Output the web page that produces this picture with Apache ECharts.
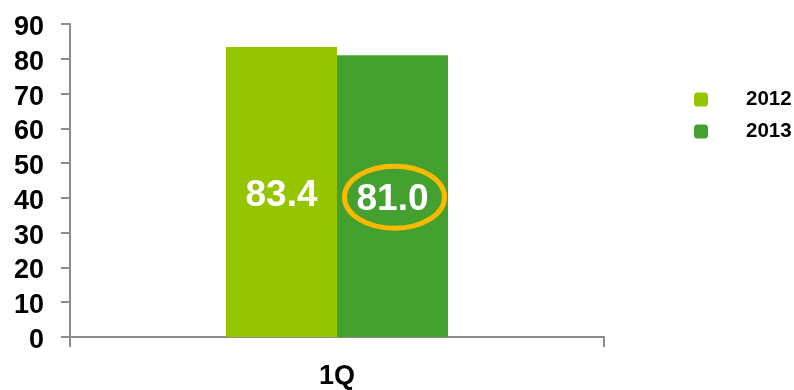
<!DOCTYPE html>
<html>
<head>
<meta charset="utf-8">
<script src="https://cdn.jsdelivr.net/npm/echarts@6/dist/echarts.min.js"></script>
<style>
  html, body { margin: 0; padding: 0; background: #fff; }
  #chart { width: 794px; height: 390px; }
</style>
</head>
<body>
<div id="chart"></div>
<script>
// Quarterly values per year
const categories = ['1Q'];
const seriesNames = ['2012', '2013'];
const values2012 = [83.4];
const values2013 = [81.0];
const yTicks = { min: 0, max: 90, interval: 10 };

const FONT = '"Liberation Sans", Arial, sans-serif';
const AXIS_COLOR = '#8c8c8c';
const COLORS = ['#95c501', '#45a12f'];
const RING_COLOR = '#fbb900';

const chart = echarts.init(document.getElementById('chart'), null, { renderer: 'canvas' });

const barLabel = {
  show: true,
  position: 'inside',
  offset: [0, 4],
  color: '#ffffff',
  fontFamily: FONT,
  fontWeight: 'bold',
  fontSize: 37,
  formatter: p => p.value.toFixed(1)
};

const tickTextStyle = {
  fontFamily: FONT,
  fontWeight: 'bold',
  fontSize: 27,
  color: '#000'
};

chart.setOption({
  animation: false,
  backgroundColor: '#ffffff',
  grid: { left: 70, right: 190, top: 24, bottom: 50, containLabel: false },
  legend: {
    orient: 'vertical',
    left: 689,
    top: 84,
    itemWidth: 14,
    itemHeight: 14,
    itemGap: 11,
    icon: 'roundRect',
    data: seriesNames,
    textStyle: {
      fontFamily: FONT,
      fontWeight: 'bold',
      fontSize: 20.5,
      color: '#000',
      padding: [0, 0, 0, 33]
    }
  },
  xAxis: {
    type: 'category',
    data: categories,
    axisLine: { show: true, lineStyle: { color: AXIS_COLOR, width: 2 } },
    axisTick: { show: true, alignWithLabel: false, length: 10, lineStyle: { color: AXIS_COLOR, width: 2 } },
    axisLabel: Object.assign({ margin: 26 }, tickTextStyle),
    splitLine: { show: false }
  },
  yAxis: {
    type: 'value',
    min: yTicks.min,
    max: yTicks.max,
    interval: yTicks.interval,
    axisLine: { show: true, lineStyle: { color: AXIS_COLOR, width: 2 } },
    axisTick: { show: true, length: 9, lineStyle: { color: AXIS_COLOR, width: 2 } },
    axisLabel: Object.assign({
      margin: 26,
      formatter: '{v|{value}}',
      rich: { v: Object.assign({ padding: [7, 0, 0, 0] }, tickTextStyle) }
    }, tickTextStyle),
    splitLine: { show: false }
  },
  series: [
    {
      name: seriesNames[0],
      type: 'bar',
      data: values2012,
      barWidth: 111,
      barGap: '0%',
      itemStyle: { color: COLORS[0] },
      label: barLabel
    },
    {
      name: seriesNames[1],
      type: 'bar',
      data: values2013,
      barWidth: 111,
      barGap: '0%',
      itemStyle: { color: COLORS[1] },
      label: barLabel
    }
  ]
});

// Highlight ring around the 2013 value label
const layout = chart.getModel().getSeriesByIndex(1).getData().getItemLayout(0);
const cx = layout.x + layout.width / 2 + 2;
const cy = layout.y + layout.height / 2 + 1;
chart.setOption({
  graphic: [{
    type: 'ellipse',
    shape: { cx: cx, cy: cy, rx: 50, ry: 31 },
    style: { fill: 'none', stroke: RING_COLOR, lineWidth: 5 },
    z: 100
  }]
});
</script>
</body>
</html>
